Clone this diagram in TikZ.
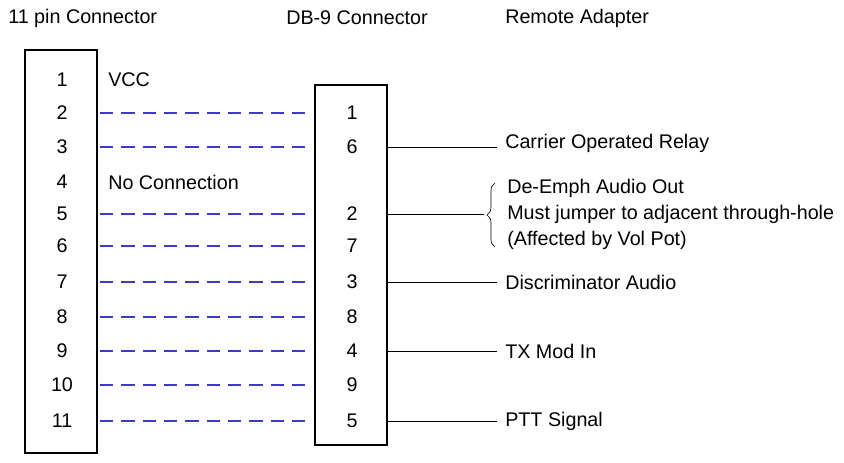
\documentclass[tikz,border=0pt]{standalone}
\usepackage{fontspec}
\setmainfont{Liberation Sans}
\usetikzlibrary{decorations.pathreplacing}
\definecolor{linkblue}{RGB}{60,60,200}
\begin{document}
\begin{tikzpicture}[x=0.75pt,y=-0.75pt,
  font=\fontsize{14.8}{17}\selectfont,
  box/.style={draw,line width=1.6pt},
  link/.style={draw=linkblue,dash pattern=on 10pt off 6pt,line width=0.9pt},
  lead/.style={draw,line width=0.5pt},
  txt/.style={anchor=west,inner sep=0pt},
  pin/.style={anchor=center,inner sep=1pt}]
\useasboundingbox (0,0) rectangle (844,463);
% headings
\node[txt] (h1) at (8,18) {11 pin Connector};
\node[txt] (h2) at (286,18) {DB-9 Connector};
\node[txt] (h3) at (505,18) {Remote Adapter};
% boxes
\draw[box] (25,50) rectangle (97,453);
\draw[box] (315,85) rectangle (387,445);
% left pins
\foreach \n/\y in {1/80,2/113,3/147,4/182,5/214,6/246,7/282,8/317,9/351,10/385,11/421}
  \node[pin] (L\n) at (62,\y) {\n};
\node[txt] (vcc) at (108,80) {VCC};
\node[txt] (nc) at (108,182) {No Connection};
% right pins
\foreach \n/\y in {1/113,6/147,2/214,7/246,3/282,8/317,4/351,9/385,5/421}
  \node[pin] (R\n) at (352,\y) {\n};
% dashed links
\foreach \a/\b in {2/1,3/6,5/2,6/7,7/3,8/8,9/4,10/9,11/5}
  \draw[link] (100,0 |- L\a) -- (310,0 |- R\b);
% leads
\node[txt] (t6) at (505,143) {Carrier Operated Relay};
\node[txt] (t3) at (505,282) {Discriminator Audio};
\node[txt] (t4) at (505,351) {TX Mod In};
\node[txt] (t5) at (505,421) {PTT Signal};
\foreach \r/\t in {6/t6,3/t3,4/t4,5/t5}
  \draw[lead] (387,0 |- R\r) -- (497,0 |- R\r);
\node[txt] (d1) at (507,188) {De-Emph Audio Out};
\node[txt] (d2) at (507,214) {Must jumper to adjacent through-hole};
\node[txt] (d3) at (507,240) {(Affected by Vol Pot)};
\draw[lead] (387,214) -- (484,214);
\draw[lead,decoration={brace,amplitude=6pt},decorate] (495,247) -- (495,183);
\end{tikzpicture}
\end{document}
